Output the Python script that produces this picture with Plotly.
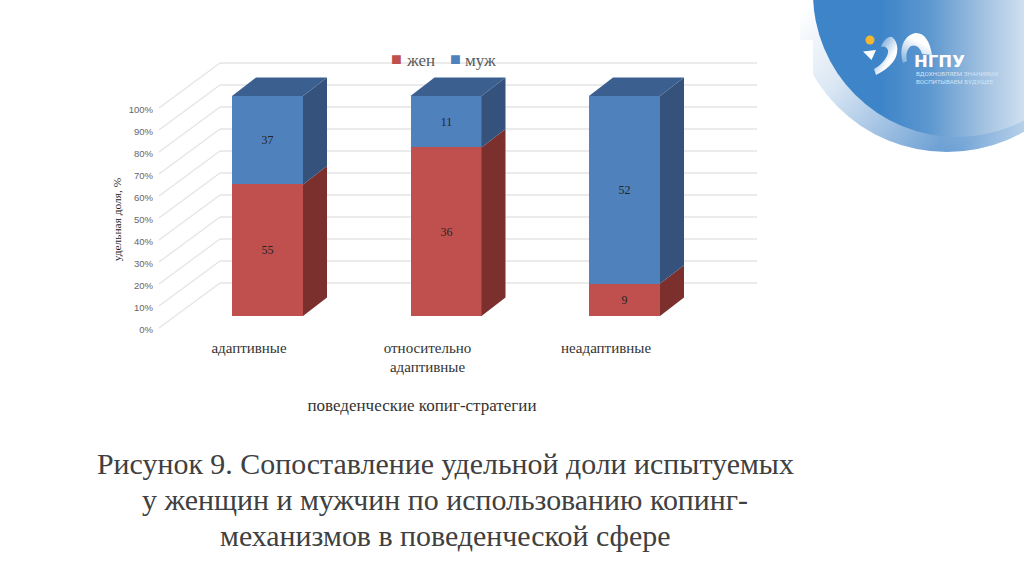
import base64
import plotly.graph_objects as go

categories = ["адаптивные", "относительно<br>адаптивные", "неадаптивные"]
women = [55, 36, 9]
men = [37, 11, 52]
tick_values = [0, 10, 20, 30, 40, 50, 60, 70, 80, 90, 100]
tick_labels = ["0%", "10%", "20%", "30%", "40%", "50%", "60%", "70%", "80%", "90%", "100%"]
series_names = ["жен", "муж"]
y_title = "удельная доля, %"
x_title = "поведенческие копиг-стратегии"
title_lines = ["Рисунок 9. Сопоставление удельной доли испытуемых",
               "у женщин и мужчин по использованию копинг-",
               "механизмов в поведенческой сфере"]

W, H = 1024, 574
RED, RED_SIDE = "#C0504D", "#7B302E"
BLUE, BLUE_SIDE, BLUE_TOP = "#4F81BD", "#34527C", "#3B6090"
GRID = "#E4E4E4"
SERIF = "Liberation Serif"
SANS = "Liberation Sans"

STEP = 178.5
X0 = 267.5
PX_PER_PCT = 2.2
Y0 = 316
BAR_W = 71 / STEP
DX = 24 / STEP
DY = 18.4 / PX_PER_PCT
WALL_L = (220 - X0) / STEP
WALL_R = (757 - X0) / STEP
FLOOR_L = (159 - X0) / STEP
WALL_UP = (Y0 - 283) / PX_PER_PCT
FLOOR_UP = (Y0 - 328) / PX_PER_PCT
AXIS_PAD = 11  # px added left of the category axis so its title centres like the reference

positions = list(range(len(categories)))
totals = [a + b for a, b in zip(women, men)]
women_pct = [100 * a / t for a, t in zip(women, totals)]

fig = go.Figure()
for vals, name, color in ((women, series_names[0], RED), (men, series_names[1], BLUE)):
    fig.add_bar(x=positions, y=vals, name=name, marker=dict(color=color, line_width=0),
                text=vals, textposition="inside", insidetextanchor="middle", hoverinfo="skip",
                textangle=0, textfont=dict(family=SERIF, size=12, color="#262626"),
                width=BAR_W, showlegend=False)


def face(xs, ys, color):
    fig.add_scatter(x=xs, y=ys, mode="lines", fill="toself", fillcolor=color,
                    line=dict(width=0, color=color), showlegend=False, hoverinfo="skip")


for p, split in zip(positions, women_pct):
    r = p + BAR_W / 2
    l = p - BAR_W / 2
    face([r, r + DX, r + DX, r, r], [0, DY, split + DY, split, 0], RED_SIDE)
    face([r, r + DX, r + DX, r, r], [split, split + DY, 100 + DY, 100, split], BLUE_SIDE)
    face([l, l + DX, r + DX, r, l], [100, 100 + DY, 100 + DY, 100, 100], BLUE_TOP)

# invisible trace that carries the visible category / percent axes
fig.add_scatter(x=categories, y=[0] * len(categories), xaxis="x2", yaxis="y2", mode="markers",
                marker=dict(opacity=0), showlegend=False, hoverinfo="skip")

shapes = []
for v in tick_values:
    shapes.append(dict(type="line", xref="x", yref="y", layer="below",
                       x0=FLOOR_L, x1=WALL_L, y0=v + FLOOR_UP, y1=v + WALL_UP,
                       line=dict(color=GRID, width=1.2)))
    shapes.append(dict(type="line", xref="x", yref="y", layer="below",
                       x0=WALL_L, x1=WALL_R, y0=v + WALL_UP, y1=v + WALL_UP,
                       line=dict(color=GRID, width=1.5)))

svg = """<svg xmlns='http://www.w3.org/2000/svg' width='244' height='160' viewBox='780 0 244 160'>
<defs>
<linearGradient id='a' gradientUnits='userSpaceOnUse' x1='800' y1='10' x2='960' y2='150'>
<stop offset='0' stop-color='#ffffff'/><stop offset='0.35' stop-color='#dbe7f4'/>
<stop offset='1' stop-color='#5f97d0'/></linearGradient>
<linearGradient id='a2' gradientUnits='userSpaceOnUse' x1='940' y1='0' x2='1024' y2='0'>
<stop offset='0' stop-color='#ffffff' stop-opacity='0'/><stop offset='1' stop-color='#ffffff' stop-opacity='0.55'/></linearGradient>
<linearGradient id='b' gradientUnits='userSpaceOnUse' x1='880' y1='0' x2='1024' y2='0'>
<stop offset='0' stop-color='#3d84c8'/><stop offset='0.35' stop-color='#5e98d0'/>
<stop offset='0.7' stop-color='#9fc0e0'/><stop offset='1' stop-color='#cfdff0'/></linearGradient>
<linearGradient id='f' gradientUnits='userSpaceOnUse' x1='880' y1='40' x2='896' y2='50'>
<stop offset='0' stop-color='#ffffff' stop-opacity='0.25'/><stop offset='1' stop-color='#ffffff'/></linearGradient>
<linearGradient id='g' gradientUnits='userSpaceOnUse' x1='900' y1='62' x2='912' y2='38'>
<stop offset='0' stop-color='#ffffff' stop-opacity='0.3'/><stop offset='1' stop-color='#ffffff'/></linearGradient>
<clipPath id='c'><path d='M800 0H1024V160H813V40H800Z'/></clipPath>
</defs>
<g clip-path='url(#c)'><circle cx='947' cy='-3' r='155' fill='url(#a)'/><circle cx='947' cy='-3' r='155' fill='url(#a2)'/></g>
<circle cx='957' cy='-7' r='144' fill='url(#b)'/>
<circle cx='870' cy='40' r='4.5' fill='#f2b632'/>
<path d='M863 51.5 L876 50 L871.5 60 Z' fill='#ffffff'/>
<path d='M881 47 C884 38 890 36 892 37 C899 42 899 55 893 62 C888 68 882 72 876 75 L874 69 C882 65 889 56 888 50 C886 46 883 46 881 47 Z' fill='url(#f)'/>
<path d='M903 63 C898 46 906 34 916 33 C925 33 930 42 932 55 L922 54 C920 46 913 43 909 48 C906 52 906 57 907 61 Z' fill='url(#g)'/>
</svg>"""
src = "data:image/svg+xml;base64," + base64.b64encode(svg.encode()).decode()


def py(p):
    return 1 - p / H


def note(text, x, y, size, color, family=SERIF, anchor="left", **kw):
    return dict(text=text, xref="paper", yref="paper", x=x / W, y=py(y), xanchor=anchor, yanchor="middle",
                showarrow=False, font=dict(family=family, size=size, color=color, **kw), align=anchor)


annotations = [
    note("НГПУ", 912, 61, 16.5, "#ffffff", "DejaVu Sans", weight="bold"),
    note("ВДОХНОВЛЯЕМ ЗНАНИЯМИ<br>ВОСПИТЫВАЕМ БУДУЩЕЕ", 914, 78.5, 6.2, "#d3e3f2", "Roboto"),
]
# legend row
for name, color, sx, tx in zip(series_names, (RED, BLUE), (389, 448), (404, 463)):
    annotations.append(note("■", sx, 59.5, 18, color, SANS))
    annotations.append(note(name, tx, 60, 17, "#595959"))
# caption lines
for line, y in zip(title_lines, (463, 499.5, 535)):
    annotations.append(note(line, 445, y, 29.9, "#404040", anchor="center"))

fig.update_layout(
    width=W, height=H, margin=dict(l=0, r=0, t=0, b=0, autoexpand=False),
    paper_bgcolor="#ffffff", plot_bgcolor="rgba(0,0,0,0)",
    barmode="stack", barnorm="percent", bargap=0, showlegend=False,
    shapes=shapes, annotations=annotations,
    images=[dict(source=src, xref="paper", yref="paper", x=780 / W, y=1, sizex=244 / W, sizey=160 / H,
                 xanchor="left", yanchor="top", sizing="stretch", layer="below")],
    xaxis=dict(visible=False, domain=[0, 1], range=[(0 - X0) / STEP, (W - X0) / STEP], fixedrange=True),
    yaxis=dict(visible=False, domain=[0, 1], range=[(Y0 - H) / PX_PER_PCT, Y0 / PX_PER_PCT], fixedrange=True),
    xaxis2=dict(domain=[(249 - STEP / 2 - AXIS_PAD) / W, (606 + STEP / 2) / W],
                range=[-0.5 - AXIS_PAD / STEP, 2.5],
                anchor="y2", type="category", showgrid=False, showline=False, ticks="",
                zeroline=False, tickfont=dict(family=SERIF, size=15, color="#333333"), ticklabelstandoff=7,
                title=dict(text=x_title, font=dict(family=SERIF, size=17, color="#333333"), standoff=25)),
    yaxis2=dict(domain=[py(329.5), py(109.5)], range=[0, 100], anchor="free", position=153 / W,
                side="left", tickvals=tick_values, ticktext=tick_labels,
                showgrid=False, showline=False, ticks="", zeroline=False,
                tickfont=dict(family=SANS, size=9.5, color="#666666"),
                title=dict(text=y_title, font=dict(family=SERIF, size=11.4, color="#222222"), standoff=3)),
)

fig.write_html("out.html", config=dict(displayModeBar=False), post_script="document.body.style.margin='0';")
